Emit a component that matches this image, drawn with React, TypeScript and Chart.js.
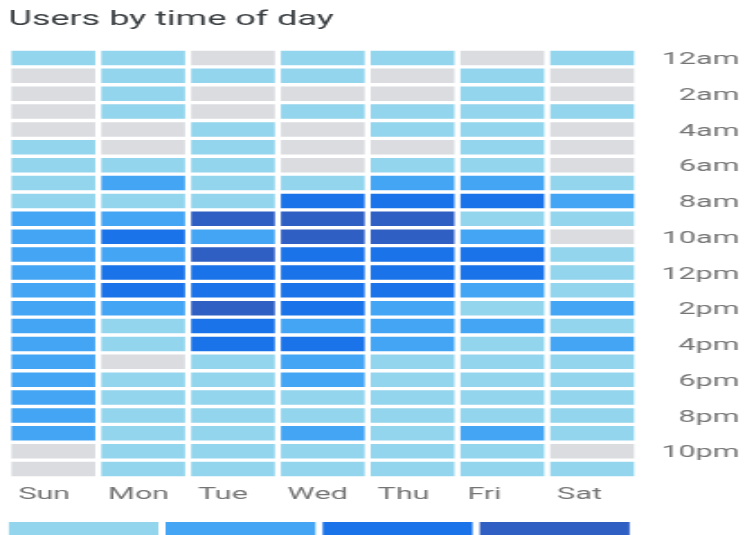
import React, { useEffect, useRef } from "react";
import { Chart, registerables } from "chart.js";

Chart.register(...registerables);

const days = ["Sun", "Mon", "Tue", "Wed", "Thu", "Fri", "Sat"];
const hourNames = [
  "12am", "1am", "2am", "3am", "4am", "5am", "6am", "7am", "8am", "9am", "10am", "11am",
  "12pm", "1pm", "2pm", "3pm", "4pm", "5pm", "6pm", "7pm", "8pm", "9pm", "10pm", "11pm",
];
const yTickLabels = ["12am", "2am", "4am", "6am", "8am", "10am", "12pm", "2pm", "4pm", "6pm", "8pm", "10pm"];

// activity level per hour (0 = none ... 4 = highest), rows 12am..11pm
const sunLevels = [1, 0, 0, 0, 0, 1, 1, 1, 1, 2, 2, 2, 2, 2, 2, 2, 2, 2, 2, 2, 2, 2, 0, 0];
const monLevels = [1, 1, 1, 1, 0, 0, 1, 2, 1, 2, 3, 2, 3, 3, 2, 1, 1, 0, 1, 1, 1, 1, 1, 1];
const tueLevels = [0, 1, 0, 0, 1, 1, 1, 1, 1, 4, 2, 4, 3, 3, 4, 3, 3, 1, 1, 1, 1, 1, 1, 1];
const wedLevels = [1, 1, 0, 1, 0, 0, 0, 1, 3, 4, 4, 3, 3, 3, 3, 2, 3, 2, 2, 1, 1, 2, 1, 1];
const thuLevels = [1, 0, 0, 1, 1, 0, 1, 2, 3, 4, 4, 3, 3, 3, 2, 2, 2, 1, 1, 1, 1, 1, 1, 1];
const friLevels = [0, 1, 1, 1, 1, 1, 1, 2, 3, 1, 2, 3, 3, 2, 1, 2, 1, 1, 1, 1, 1, 2, 1, 1];
const satLevels = [1, 0, 0, 1, 0, 0, 0, 1, 2, 1, 0, 1, 1, 1, 2, 1, 2, 1, 1, 1, 1, 1, 0, 1];
const dayLevels = [sunLevels, monLevels, tueLevels, wedLevels, thuLevels, friLevels, satLevels];

const levelColors = ["#dadce0", "#93d5ed", "#45a5f5", "#1a73e8", "#305fc4"];
const legendColors = ["#93d5ed", "#45a5f5", "#1a73e8", "#305fc4"];

const LOGICAL_W = 414;
const LOGICAL_H = 546;
const SCALE_X = 745 / LOGICAL_W;

export default function App() {
  const ref = useRef<HTMLCanvasElement | null>(null);

  useEffect(() => {
    if (!ref.current) return;
    const datasets = hourNames.map((name, h) => ({
      label: name,
      data: days.map(() => 1),
      backgroundColor: days.map((_, d) => levelColors[dayLevels[d][h]]),
      borderColor: "#ffffff",
      borderWidth: 2,
      borderSkipped: false as const,
      barPercentage: 1,
      categoryPercentage: 1,
    }));

    const chart = new Chart(ref.current, {
      type: "bar",
      data: { labels: days, datasets },
      options: {
        responsive: false,
        animation: false,
        events: [],
        layout: { padding: { left: 4.7, right: 3, top: 0, bottom: 0 } },
        plugins: {
          title: {
            display: true,
            text: "Users by time of day",
            align: "start",
            color: "#3c4043",
            font: { family: "Roboto", size: 20, weight: "normal" },
            padding: { top: 8, bottom: 17 },
          },
          legend: {
            display: true,
            position: "bottom",
            align: "start",
            onClick: () => {},
            labels: {
              boxWidth: 83.3,
              boxHeight: 14,
              padding: 0,
              font: { size: 8 },
              generateLabels: () =>
                legendColors.map((c) => ({
                  text: "",
                  fillStyle: c,
                  strokeStyle: c,
                  lineWidth: 0,
                  hidden: false,
                })),
            },
          },
          tooltip: { enabled: false },
        },
        scales: {
          x: {
            stacked: true,
            grid: { display: false, drawTicks: false },
            border: { display: false },
            ticks: {
              align: "start",
              labelOffset: -19.5,
              padding: 6.5,
              color: "#757575",
              font: { family: "Roboto", size: 17 },
            },
            afterFit: (s: any) => {
              s.height = 44;
            },
          },
          y: {
            type: "linear",
            stacked: true,
            min: 0,
            max: 24,
            reverse: true,
            position: "right",
            grid: { display: false, drawTicks: false },
            border: { display: false },
            afterBuildTicks: (s: any) => {
              s.ticks = yTickLabels.map((_, i) => ({ value: i * 2 + 0.5 }));
            },
            afterFit: (s: any) => {
              s.width = 57;
            },
            ticks: {
              autoSkip: false,
              crossAlign: "far",
              padding: 13,
              labelOffset: 2,
              color: "#757575",
              font: { family: "Roboto", size: 17 },
              callback: (v: any) => yTickLabels[Math.floor(Number(v) / 2)],
            },
          },
        },
      },
    } as any);
    return () => chart.destroy();
  }, []);

  return (
    <div
      style={{
        position: "fixed",
        left: 0,
        top: 0,
        width: 745,
        height: 535,
        overflow: "hidden",
        background: "#ffffff",
      }}
    >
      <div
        style={{
          width: LOGICAL_W,
          height: LOGICAL_H,
          transform: `scaleX(${SCALE_X})`,
          transformOrigin: "0 0",
        }}
      >
        <canvas ref={ref} width={LOGICAL_W} height={LOGICAL_H} />
      </div>
    </div>
  );
}
